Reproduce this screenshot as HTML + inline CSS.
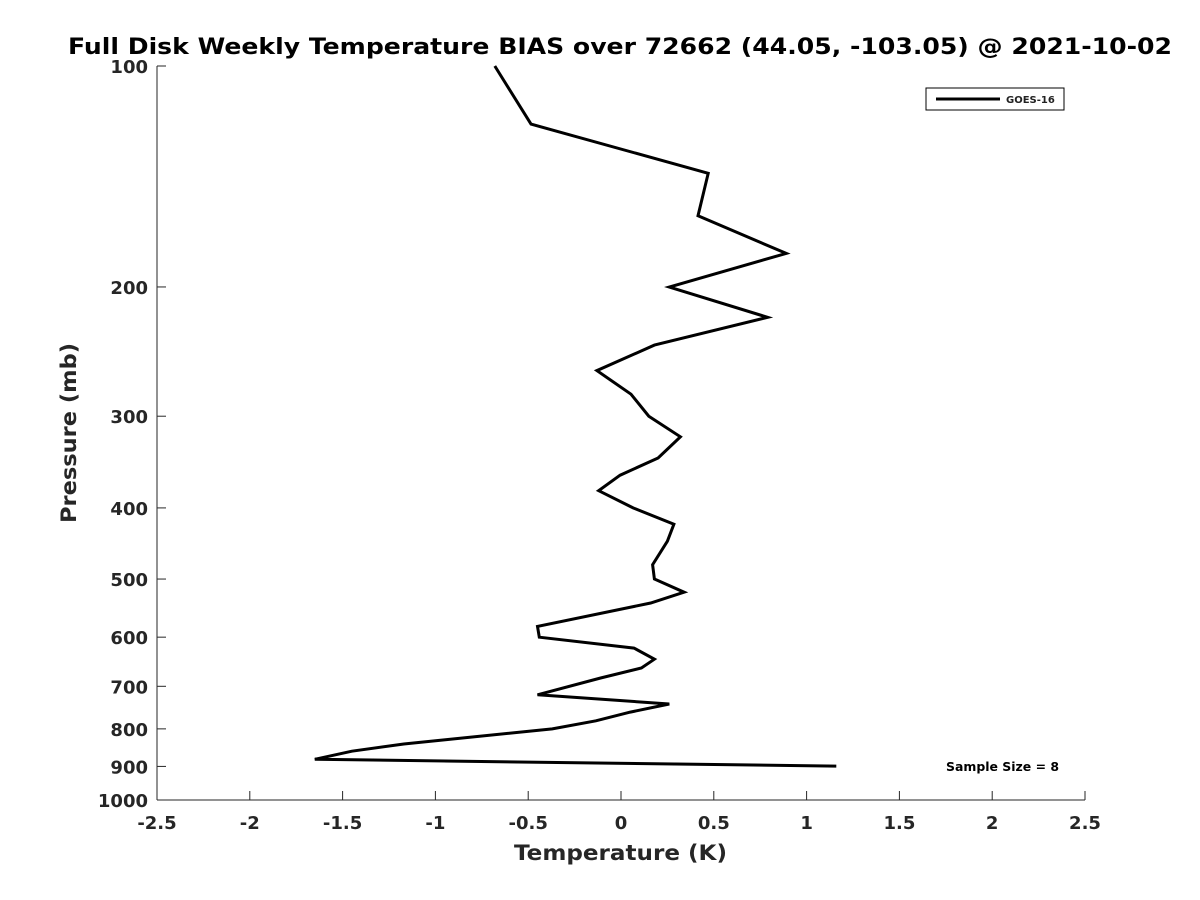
<!DOCTYPE html>
<html><head><meta charset="utf-8">
<style>
html,body{margin:0;padding:0;background:#fff;}
svg{display:block;font-family:"DejaVu Sans","Liberation Sans",sans-serif;}
</style></head>
<body>
<svg id="chart" width="1200" height="900" viewBox="0 0 1200 900">
  <rect width="1200" height="900" fill="#fff"/>
  <text x="68" y="54" font-size="22" font-weight="bold" fill="#000" textLength="1104" lengthAdjust="spacingAndGlyphs">Full Disk Weekly Temperature BIAS over 72662 (44.05, -103.05) @ 2021-10-02</text>
  <g id="axes"></g>
  <g id="series"></g>
  <g>
    <rect x="926" y="88" width="138" height="22" fill="#fff" stroke="#000" stroke-width="1"/>
    <line x1="936" y1="99" x2="1000" y2="99" stroke="#000" stroke-width="3"/>
    <text x="1006" y="103" font-size="10" font-weight="bold" fill="#222">GOES-16</text>
  </g>
  <text x="946" y="771" font-size="12" font-weight="bold" fill="#000" textLength="113" lengthAdjust="spacingAndGlyphs">Sample Size = 8</text>
  <text x="514" y="860" font-size="21" font-weight="bold" fill="#262626" textLength="213" lengthAdjust="spacingAndGlyphs">Temperature (K)</text>
  <text transform="translate(76,523) rotate(-90)" font-size="21" font-weight="bold" fill="#262626" textLength="180" lengthAdjust="spacingAndGlyphs">Pressure (mb)</text>
</svg>
<script>
const temps = [-0.68,-0.485,0.47,0.415,0.89,0.26,0.79,0.18,-0.13,0.054,0.15,0.32,0.2,-0.005,-0.12,0.065,0.285,0.25,0.17,0.18,0.34,0.16,-0.45,-0.44,0.07,0.18,0.11,-0.11,-0.45,0.26,0.05,-0.135,-0.37,-1.17,-1.45,-1.65,1.16];
const pressures = [100,120,140,160,180,200,220,240,260,280,300,320,342,361,379,400,421,444,478,500,521,539,580,600,621,643,661,682,719,740,759,780,800,839,858,880,899];
const xTicks = [-2.5,-2,-1.5,-1,-0.5,0,0.5,1,1.5,2,2.5];
const xTickLabels = ["-2.5","-2","-1.5","-1","-0.5","0","0.5","1","1.5","2","2.5"];
const yTicks = [100,200,300,400,500,600,700,800,900,1000];

const L=157,R=1085,T=66,B=800;
const xs = v => L + (v - (-2.5)) / 5 * (R - L);
const ys = p => T + (Math.log10(p) - 2) * (B - T);
const NS="http://www.w3.org/2000/svg";
function mk(tag, attrs, parent){const e=document.createElementNS(NS,tag);for(const k in attrs)e.setAttribute(k,attrs[k]);parent.appendChild(e);return e;}

const axes=document.getElementById('axes');
const xa=mk('line',{x1:L,y1:B,x2:R,y2:B,stroke:'#262626','stroke-width':1},axes);


const ya=mk('line',{x1:L,y1:T,x2:L,y2:B,stroke:'#262626','stroke-width':1},axes);



xTicks.forEach((v,i)=>{
  const x=xs(v);
  const t=mk('line',{x1:x,y1:B,x2:x,y2:B-9,stroke:'#262626','stroke-width':1},axes);
  
  
  const lb=mk('text',{x:x,y:B+29,'text-anchor':'middle','font-size':18,'font-weight':'bold',fill:'#262626'},axes);
  lb.textContent=xTickLabels[i];
  
  
});
yTicks.forEach(p=>{
  const y=ys(p);
  const t=mk('line',{x1:L,y1:y,x2:L+9,y2:y,stroke:'#262626','stroke-width':1},axes);
  
  
  const lb=mk('text',{x:L-9,y:y+7,'text-anchor':'end','font-size':18,'font-weight':'bold',fill:'#262626'},axes);
  lb.textContent=String(p);
  
  
});

const pts=temps.map((t,i)=>xs(t).toFixed(1)+','+ys(pressures[i]).toFixed(1)).join(' ');
const line=mk('polyline',{points:pts,fill:'none',stroke:'#000','stroke-width':3,'stroke-linejoin':'miter'},document.getElementById('series'));


</script>
</body></html>
